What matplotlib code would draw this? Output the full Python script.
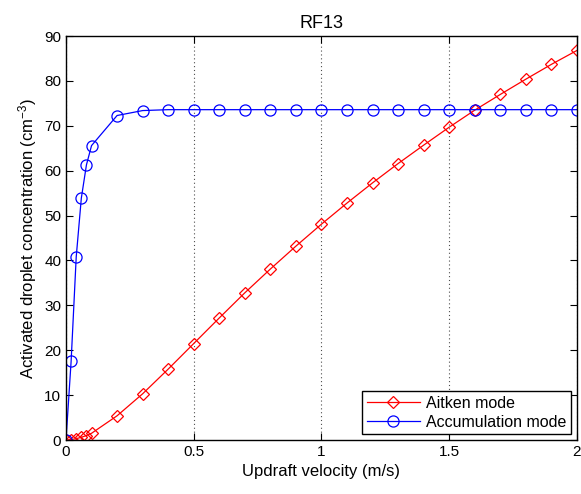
import matplotlib
matplotlib.use("Agg")
import matplotlib.pyplot as plt

# updraft velocities (m/s)
w = [0, 0.02, 0.04, 0.06, 0.08, 0.1, 0.2, 0.3, 0.4, 0.5, 0.6, 0.7, 0.8, 0.9, 1.0,
     1.1, 1.2, 1.3, 1.4, 1.5, 1.6, 1.7, 1.8, 1.9, 2.0]

aitken = [0, 0.1, 0.3, 0.6, 1.0, 1.5, 5.4, 10.3, 15.8, 21.5, 27.2, 32.8, 38.1, 43.2,
          48.1, 52.8, 57.3, 61.6, 65.7, 69.7, 73.5, 77.0, 80.4, 83.7, 86.8]
accum = [0, 17.5, 40.8, 53.9, 61.3, 65.6, 72.3, 73.4, 73.6, 73.6, 73.6, 73.6, 73.6,
         73.6, 73.6, 73.6, 73.6, 73.6, 73.6, 73.6, 73.6, 73.6, 73.6, 73.6, 73.6]

plt.rcParams["font.family"] = ["Liberation Sans", "DejaVu Sans"]
plt.rcParams["mathtext.fontset"] = "custom"
plt.rcParams["mathtext.rm"] = "Liberation Sans"
plt.rcParams["mathtext.it"] = "Liberation Sans:italic"

fig = plt.figure(figsize=(5.81, 4.94), dpi=100)
ax = fig.add_axes([0.1136, 0.1093, 0.8795, 0.8177])

ax.plot(w, aitken, "-", color="red", marker="D", markersize=6.5, markerfacecolor="none",
        markeredgewidth=0.9, linewidth=0.9, label="Aitken mode")
ax.plot(w, accum, "-", color="blue", marker="o", markersize=8, markerfacecolor="none",
        markeredgewidth=0.9, linewidth=0.9, label="Accumulation mode")

ax.set_xlim(0, 2)
ax.set_ylim(0, 90)
ax.set_xticks([0, 0.5, 1, 1.5, 2])
ax.set_xticklabels(["0", "0.5", "1", "1.5", "2"])
ax.set_yticks(range(0, 91, 10))
ax.xaxis.grid(True, linestyle=(0, (1, 2.5)), color="0.3", linewidth=0.8)
ax.tick_params(direction="in", top=True, right=True, labelsize=11, length=5, width=0.8)
for s in ax.spines.values():
    s.set_linewidth(1.0)

ax.set_title("RF13", fontsize=13)
ax.set_xlabel("Updraft velocity (m/s)", fontsize=12)
ax.set_ylabel("Activated droplet concentration (cm$^{-3}$)", fontsize=12)

leg = ax.legend(loc="lower right", fontsize=11.5, fancybox=False, framealpha=1,
                edgecolor="black", borderaxespad=0.35, handlelength=3.3,
                handletextpad=0.4, borderpad=0.3, labelspacing=0.25)
leg.get_frame().set_linewidth(1.0)

plt.savefig("out.png", dpi=100)
